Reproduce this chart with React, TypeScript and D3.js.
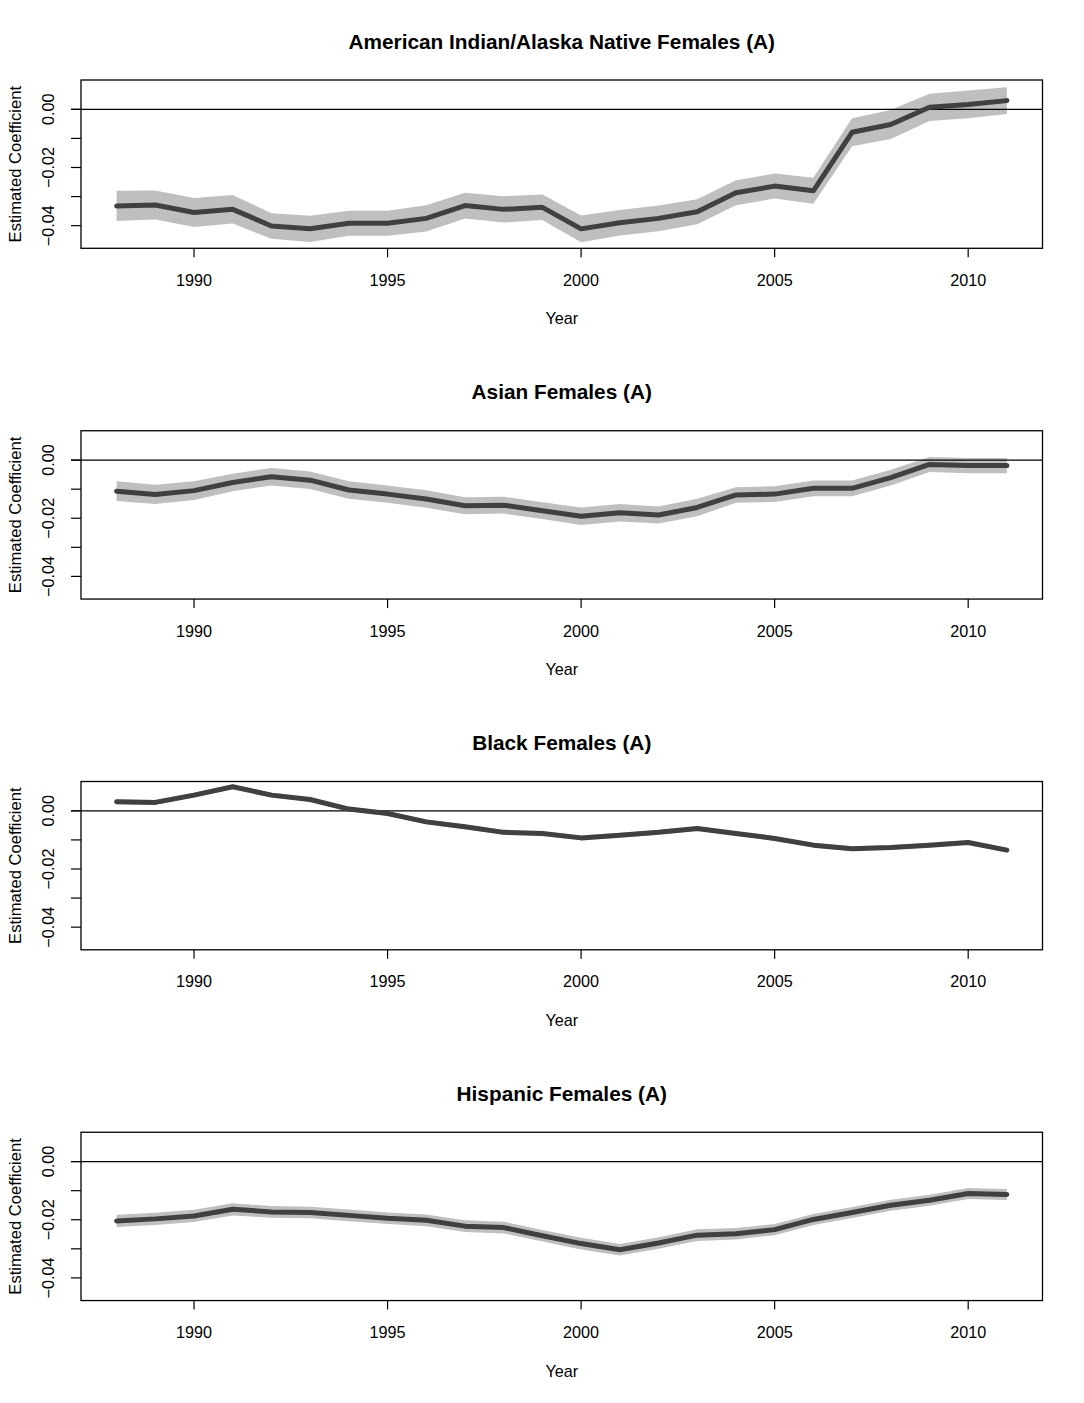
import React from "react";
import * as d3 from "d3";

const years = d3.range(1988, 2012);

const titles = [
  "American Indian/Alaska Native Females (A)",
  "Asian Females (A)",
  "Black Females (A)",
  "Hispanic Females (A)",
];

const aianEst = [-0.0332, -0.0329, -0.0355, -0.0344, -0.0401, -0.0411, -0.0392, -0.0392, -0.0375, -0.0331, -0.0344, -0.0337, -0.0411, -0.039, -0.0375, -0.0352, -0.0287, -0.0264, -0.028, -0.0079, -0.0052, 0.0007, 0.0017, 0.003];
const aianHalf = [0.0052, 0.005, 0.005, 0.0049, 0.0044, 0.0045, 0.0043, 0.0043, 0.0045, 0.0044, 0.0045, 0.0044, 0.0046, 0.0044, 0.0044, 0.0043, 0.0043, 0.0043, 0.0045, 0.0048, 0.005, 0.0047, 0.0048, 0.0046];

const asianEst = [-0.0107, -0.0118, -0.0105, -0.0077, -0.0057, -0.0069, -0.0103, -0.0117, -0.0134, -0.0157, -0.0155, -0.0174, -0.0193, -0.0181, -0.0189, -0.0163, -0.012, -0.0117, -0.0097, -0.0097, -0.006, -0.0015, -0.0019, -0.0019];
const asianHalf = [0.0034, 0.0033, 0.0032, 0.003, 0.003, 0.003, 0.003, 0.003, 0.003, 0.0029, 0.0029, 0.0029, 0.003, 0.003, 0.0029, 0.003, 0.0027, 0.0027, 0.0027, 0.0027, 0.0027, 0.0026, 0.0026, 0.0026];

const blackEst = [0.0031, 0.0029, 0.0054, 0.0083, 0.0054, 0.0039, 0.0006, -0.0009, -0.0038, -0.0055, -0.0074, -0.0078, -0.0093, -0.0084, -0.0074, -0.0061, -0.0078, -0.0095, -0.0118, -0.013, -0.0126, -0.0118, -0.0109, -0.0135];
const blackHalf = [0.0008, 0.0008, 0.0008, 0.0008, 0.0008, 0.0008, 0.0008, 0.0008, 0.0008, 0.0008, 0.0008, 0.0008, 0.0008, 0.0008, 0.0008, 0.0008, 0.0008, 0.0008, 0.0008, 0.0008, 0.0008, 0.0008, 0.0008, 0.0008];

const hispEst = [-0.0204, -0.0197, -0.0187, -0.0164, -0.0173, -0.0175, -0.0185, -0.0195, -0.0202, -0.0222, -0.0227, -0.0255, -0.0282, -0.0303, -0.028, -0.0253, -0.0248, -0.0234, -0.0199, -0.0175, -0.015, -0.0133, -0.011, -0.0113];
const hispHalf = [0.0021, 0.0021, 0.0021, 0.0021, 0.002, 0.002, 0.002, 0.002, 0.002, 0.002, 0.002, 0.002, 0.002, 0.002, 0.002, 0.002, 0.002, 0.0019, 0.0019, 0.0019, 0.0019, 0.0019, 0.0019, 0.0019];

const xTicks = [1990, 1995, 2000, 2005, 2010];
const yTicks = [0, -0.01, -0.02, -0.03, -0.04];
const yTickLabels = [0, -0.02, -0.04];

const estimates = [aianEst, asianEst, blackEst, hispEst];
const halves = [aianHalf, asianHalf, blackHalf, hispHalf];

const W = 1084;
const H = 1403;
const PANEL_H = H / 4;
const LEFT = 81;
const RIGHT = 1042.5;
const TOP = 80;
const BOTTOM = 248.3;
const FONT = "'Liberation Sans', Arial, Helvetica, sans-serif";
const FS = 16.2;

const x = d3.scaleLinear().domain([1987.08, 2011.92]).range([LEFT, RIGHT]);
const y = d3.scaleLinear().domain([-0.04779, 0.01009]).range([BOTTOM, TOP]);

function fmt(v: number) {
  const s = Math.abs(v).toFixed(2);
  return v < 0 ? "\u2212" + s : s;
}

function Panel({ idx }: { idx: number }) {
  const est = estimates[idx];
  const half = halves[idx];
  const data = years.map((yr, i) => ({ yr, v: est[i], lo: est[i] - half[i], hi: est[i] + half[i] }));
  const area = d3
    .area<any>()
    .x((d) => x(d.yr))
    .y0((d) => y(d.lo))
    .y1((d) => y(d.hi));
  const line = d3
    .line<any>()
    .x((d) => x(d.yr))
    .y((d) => y(d.v));
  const midY = (TOP + BOTTOM) / 2;
  return (
    <g transform={`translate(0, ${idx * PANEL_H})`}>
      <text x={(LEFT + RIGHT) / 2} y={48.5} textAnchor="middle" fontFamily={FONT} fontWeight="bold" fontSize={20.8} fill="#000">
        {titles[idx]}
      </text>
      <defs>
        <clipPath id={`clip${idx}`}>
          <rect x={LEFT} y={TOP} width={RIGHT - LEFT} height={BOTTOM - TOP} />
        </clipPath>
      </defs>
      <g clipPath={`url(#clip${idx})`}>
        <path d={area(data) || ""} fill="#bfbfbf" stroke="none" />
        <line x1={LEFT} x2={RIGHT} y1={y(0)} y2={y(0)} stroke="#000" strokeWidth={1.2} />
      </g>
      <path d={line(data) || ""} fill="none" stroke="#404040" strokeWidth={5} strokeLinejoin="round" strokeLinecap="round" />
      <line x1={LEFT - 10} x2={LEFT} y1={y(0)} y2={y(0)} stroke="#000" strokeWidth={1.2} />
      <rect x={LEFT} y={TOP} width={RIGHT - LEFT} height={BOTTOM - TOP} fill="none" stroke="#000" strokeWidth={1.3} />
      {xTicks.map((t) => (
        <g key={t}>
          <line x1={x(t)} x2={x(t)} y1={BOTTOM} y2={BOTTOM + 9} stroke="#000" strokeWidth={1.2} />
          <text x={x(t)} y={285.8} textAnchor="middle" fontFamily={FONT} fontSize={FS} fill="#000">
            {t}
          </text>
        </g>
      ))}
      {yTicks.map((t) => (
        <line key={t} x1={LEFT - 10} x2={LEFT} y1={y(t)} y2={y(t)} stroke="#000" strokeWidth={1.2} />
      ))}
      {yTickLabels.map((t) => (
        <text key={t} transform={`translate(54.3, ${y(t)}) rotate(-90)`} textAnchor="middle" fontFamily={FONT} fontSize={FS} fill="#000">
          {fmt(t)}
        </text>
      ))}
      <text x={(LEFT + RIGHT) / 2} y={324.4} textAnchor="middle" fontFamily={FONT} fontSize={FS} fill="#000">
        Year
      </text>
      <text transform={`translate(21, ${midY}) rotate(-90)`} textAnchor="middle" fontFamily={FONT} fontSize={16.6} fill="#000">
        Estimated Coefficient
      </text>
    </g>
  );
}

export default function App() {
  return (
    <svg width={W} height={H} style={{ position: "absolute", left: 0, top: 0, background: "#fff" }}>
      <rect width={W} height={H} fill="#fff" />
      {[0, 1, 2, 3].map((i) => (
        <Panel key={i} idx={i} />
      ))}
    </svg>
  );
}
